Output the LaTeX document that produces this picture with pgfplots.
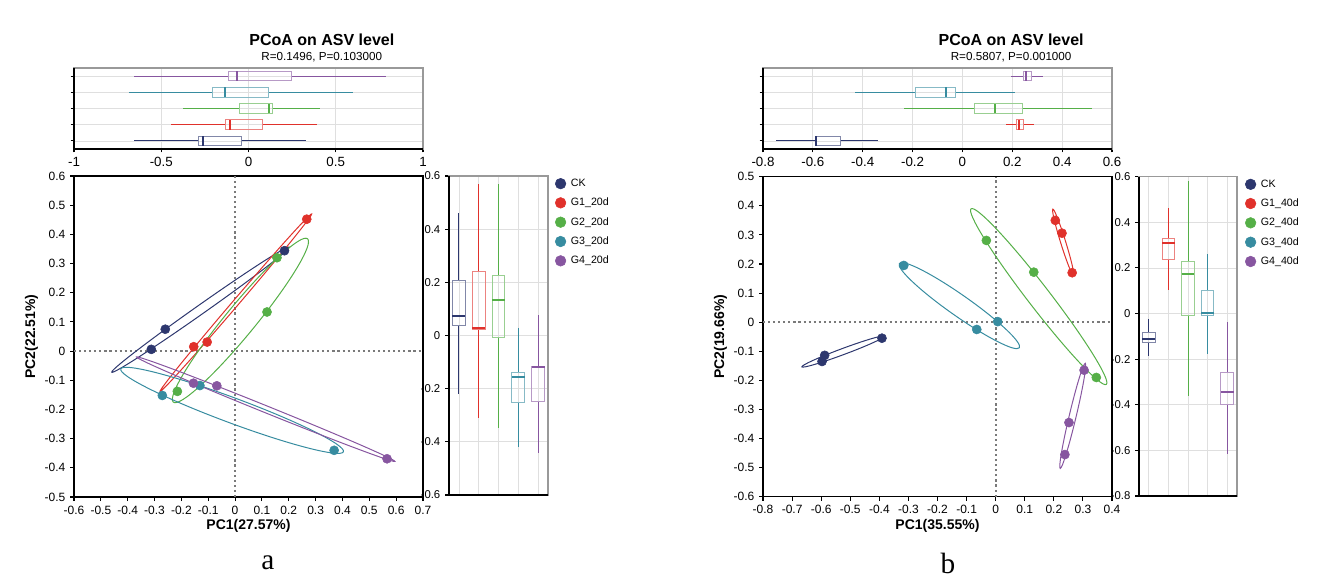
\documentclass[border=0pt]{standalone}
\usepackage{pgfplots}
\pgfplotsset{compat=1.18}
\usepgfplotslibrary{statistics}
\usepackage{fontspec}
\setmainfont{Liberation Sans}
\setsansfont{Liberation Sans}
\newfontfamily\panelfont{Liberation Serif}

\definecolor{ck}{HTML}{2D376E}
\definecolor{ga}{HTML}{E0312B}
\definecolor{gb}{HTML}{55AF47}
\definecolor{gc}{HTML}{378CA0}
\definecolor{gd}{HTML}{8756A0}
\definecolor{zeroline}{HTML}{7A7A7A}

% one prepared box: colour, position, lower whisker, Q1, median, Q3, upper whisker
\newcommand{\bx}[7]{\addplot[#1, line width=0.75pt, forget plot,
  boxplot prepared={draw position=#2, lower whisker=#3, lower quartile=#4,
    median=#5, upper quartile=#6, upper whisker=#7},
  boxplot/every box/.style={draw=#1!60!white},
  boxplot/every median/.style={line width=1.5pt}] coordinates {};}

% confidence ellipse: colour, centre x, centre y, angle, semi-axes
\newcommand{\confell}[6]{\draw[#1, line width=0.75pt,
  rotate around={#4:(axis cs:#2,#3)}] (axis cs:#2,#3)
  ellipse [x radius=#5, y radius=#6];}

% dark left and bottom edges over the grey frame of the marginal box plots
\newcommand{\darkedges}{\draw[black, line width=0.8pt]
  (rel axis cs:0,1) -- (rel axis cs:0,0) -- (rel axis cs:1,0);}

\tikzset{
  title1/.style={font=\bfseries\fontsize{12}{14}\selectfont},
  title2/.style={font=\fontsize{8.75}{10}\selectfont},
  zero/.style={zeroline, line width=1.4pt, dash pattern=on 1.6pt off 2.2pt},
}

\pgfplotsset{
  every axis/.append style={
    scale only axis,
    /pgf/number format/assume math mode=true,
    axis line style={black, line width=0.8pt},
    every tick/.style={black, line width=0.8pt},
    tick align=outside,
    major tick length=3pt,
  },
  scat/.style={
    width=261.75pt,
    xtick pos=left, ytick pos=left,
    tick label style={font=\fontsize{9}{10}\selectfont},
    xticklabel style={/pgf/number format/fixed, /pgf/number format/precision=1},
    yticklabel style={/pgf/number format/fixed, /pgf/number format/precision=1},
    label style={font=\bfseries\fontsize{10.5}{12}\selectfont},
    xlabel style={yshift=3pt},
    ylabel style={yshift=-2pt},
    every axis plot/.append style={only marks, mark=*, mark size=3.4pt},
  },
  topbox/.style={
    width=261.75pt, height=60.75pt,
    ymin=0.5, ymax=5.5, ytick={1,2,3,4,5}, yticklabels={},
    xmajorgrids, ymajorgrids,
    grid style={gray!25, line width=0.6pt},
    axis line style={gray!80, line width=0.8pt},
    xtick pos=left, ytick pos=left,
    major tick length=2.5pt,
    tick label style={font=\fontsize{10}{12}\selectfont},
    boxplot/draw direction=x,
    boxplot/box extend=0.6,
    boxplot/whisker extend=0,
    clip=false,
  },
  sidebox/.style={
    xmin=0.5, xmax=5.5, xtick={1,2,3,4,5}, xticklabels={},
    xmajorgrids, ymajorgrids,
    grid style={gray!25, line width=0.6pt},
    axis line style={gray!80, line width=0.8pt},
    xtick style={draw=none},
    ytick pos=left,
    tick label style={font=\fontsize{8.5}{10}\selectfont},
    boxplot/draw direction=y,
    boxplot/box extend=0.65,
    boxplot/whisker extend=0,
    clip=false,
    legend image code/.code={\fill[##1] (0pt,0pt) circle (4pt);},
    legend cell align=left,
    legend style={draw=none, fill=none, inner sep=0pt,
      font=\fontsize{8}{9}\selectfont, row sep=3.2pt,
      /tikz/every odd column/.append style={column sep=1.5pt}},
  },
}

\begin{document}
\begin{tikzpicture}
\path[use as bounding box] (0pt,0pt) rectangle (990pt,437.25pt);

% ---------------- panel a ----------------
\begin{axis}[topbox, at={(55.5pt,325.5pt)}, anchor=south west,
  xmin=-1, xmax=1, xtick={-1,-0.5,0,0.5,1}]
  \bx{ck}{1}{-0.656}{-0.288}{-0.263}{-0.039}{0.330}
  \bx{ga}{2}{-0.444}{-0.131}{-0.106}{0.079}{0.394}
  \bx{gb}{3}{-0.377}{-0.049}{0.116}{0.139}{0.410}
  \bx{gc}{4}{-0.683}{-0.205}{-0.133}{0.117}{0.597}
  \bx{gd}{5}{-0.656}{-0.114}{-0.068}{0.245}{0.788}
  \darkedges
  \node[title1] at (axis description cs:0.71,1.346) {PCoA on ASV level};
  \node[title2] at (axis description cs:0.71,1.132) {R=0.1496, P=0.103000};
\end{axis}

\begin{axis}[scat, at={(55.5pt,64.5pt)}, anchor=south west,
  height=240.75pt,
  xmin=-0.6, xmax=0.7, ymin=-0.5, ymax=0.6,
  xtick={-0.6,-0.5,-0.4,-0.3,-0.2,-0.1,0,0.1,0.2,0.3,0.4,0.5,0.6,0.7},
  ytick={-0.5,-0.4,-0.3,-0.2,-0.1,0,0.1,0.2,0.3,0.4,0.5,0.6},
  xlabel={PC1(27.57\%)}, ylabel={PC2(22.51\%)}]
  \draw[zero] (axis cs:0,-0.5) -- (axis cs:0,0.6);
  \draw[zero] (axis cs:-0.6,0) -- (axis cs:0.7,0);
  \confell{ck}{-0.129}{0.142}{35.2}{81.4pt}{3.4pt}
  \confell{ga}{0.003}{0.166}{49.5}{87.5pt}{2.3pt}
  \confell{gb}{0.020}{0.105}{50.6}{79.3pt}{11.2pt}
  \confell{gc}{-0.011}{-0.203}{-20.4}{89.1pt}{9.4pt}
  \confell{gd}{0.114}{-0.199}{-22.0}{104.5pt}{2.6pt}
  \addplot[ck] coordinates {(0.184,0.344) (-0.260,0.075) (-0.312,0.006)};
  \addplot[ga] coordinates {(0.267,0.452) (-0.154,0.015) (-0.104,0.031)};
  \addplot[gb] coordinates {(0.156,0.320) (0.119,0.134) (-0.215,-0.138)};
  \addplot[gc] coordinates {(-0.271,-0.152) (-0.131,-0.118) (0.369,-0.340)};
  \addplot[gd] coordinates {(-0.155,-0.110) (-0.068,-0.119) (0.566,-0.369)};
\end{axis}

\begin{axis}[sidebox, at={(336.75pt,66pt)}, anchor=south west,
  width=74.25pt, height=239.25pt,
  ymin=-0.6, ymax=0.6, ytick={-0.6,-0.4,-0.2,0,0.2,0.4,0.6},
  yticklabels={-0.6,-0.4,-0.2,0,0.2,0.4,0.6},
  legend style={at={(axis description cs:1.068,1.0)}, anchor=north west}]
  \bx{ck}{1}{-0.220}{0.037}{0.073}{0.206}{0.462}
  \bx{ga}{2}{-0.309}{0.021}{0.028}{0.240}{0.569}
  \bx{gb}{3}{-0.349}{-0.006}{0.132}{0.226}{0.569}
  \bx{gc}{4}{-0.421}{-0.251}{-0.157}{-0.140}{0.028}
  \bx{gd}{5}{-0.443}{-0.248}{-0.120}{-0.117}{0.076}
  \darkedges
  \addlegendimage{ck}\addlegendentry{CK}
  \addlegendimage{ga}\addlegendentry{G1\_20d}
  \addlegendimage{gb}\addlegendentry{G2\_20d}
  \addlegendimage{gc}\addlegendentry{G3\_20d}
  \addlegendimage{gd}\addlegendentry{G4\_20d}
\end{axis}

% ---------------- panel b ----------------
\begin{axis}[topbox, at={(572.25pt,325.5pt)}, anchor=south west,
  xmin=-0.8, xmax=0.6, xtick={-0.8,-0.6,-0.4,-0.2,0,0.2,0.4,0.6},
  xticklabel style={/pgf/number format/fixed, /pgf/number format/precision=1}]
  \bx{ck}{1}{-0.748}{-0.591}{-0.587}{-0.490}{-0.337}
  \bx{ga}{2}{0.174}{0.218}{0.228}{0.246}{0.287}
  \bx{gb}{3}{-0.234}{0.049}{0.131}{0.239}{0.521}
  \bx{gc}{4}{-0.430}{-0.190}{-0.065}{-0.028}{0.212}
  \bx{gd}{5}{0.195}{0.243}{0.254}{0.279}{0.325}
  \darkedges
  \node[title1] at (axis description cs:0.711,1.346) {PCoA on ASV level};
  \node[title2] at (axis description cs:0.711,1.132) {R=0.5807, P=0.001000};
\end{axis}

\begin{axis}[scat, at={(572.25pt,64.7pt)}, anchor=south west,
  height=240pt,
  xmin=-0.8, xmax=0.4, ymin=-0.6, ymax=0.5,
  xtick={-0.8,-0.7,-0.6,-0.5,-0.4,-0.3,-0.2,-0.1,0,0.1,0.2,0.3,0.4},
  ytick={-0.6,-0.5,-0.4,-0.3,-0.2,-0.1,0,0.1,0.2,0.3,0.4,0.5},
  xlabel={PC1(35.55\%)}, ylabel={PC2(19.66\%)}]
  \draw[zero] (axis cs:0,-0.6) -- (axis cs:0,0.5);
  \draw[zero] (axis cs:-0.8,0) -- (axis cs:0.4,0);
  \confell{ck}{-0.525}{-0.101}{20.4}{32.9pt}{2.3pt}
  \confell{ga}{0.232}{0.275}{107.3}{26pt}{1.9pt}
  \confell{gb}{0.148}{0.088}{-52.4}{83.1pt}{8.3pt}
  \confell{gc}{-0.125}{0.057}{-35.1}{55pt}{7.9pt}
  \confell{gd}{0.265}{-0.322}{76.6}{40.5pt}{2.6pt}
  \addplot[ck] coordinates {(-0.391,-0.055) (-0.588,-0.114) (-0.597,-0.135)};
  \addplot[ga] coordinates {(0.205,0.350) (0.228,0.306) (0.263,0.170)};
  \addplot[gb] coordinates {(-0.032,0.281) (0.131,0.172) (0.346,-0.190)};
  \addplot[gc] coordinates {(-0.316,0.195) (-0.065,-0.025) (0.007,0.002)};
  \addplot[gd] coordinates {(0.304,-0.165) (0.252,-0.345) (0.238,-0.455)};
\end{axis}

\begin{axis}[sidebox, at={(854.25pt,65.25pt)}, anchor=south west,
  width=73.5pt, height=239.5pt,
  ymin=-0.8, ymax=0.6, ytick={-0.8,-0.6,-0.4,-0.2,0,0.2,0.4,0.6},
  yticklabels={-0.8,-0.6,-0.4,-0.2,0,0.2,0.4,0.6},
  legend style={at={(axis description cs:1.079,1.0)}, anchor=north west}]
  \bx{ck}{1}{-0.187}{-0.126}{-0.113}{-0.085}{-0.023}
  \bx{ga}{2}{0.105}{0.238}{0.308}{0.330}{0.462}
  \bx{gb}{3}{-0.361}{-0.010}{0.174}{0.227}{0.579}
  \bx{gc}{4}{-0.177}{-0.010}{0.004}{0.099}{0.263}
  \bx{gd}{5}{-0.617}{-0.400}{-0.345}{-0.257}{-0.035}
  \darkedges
  \addlegendimage{ck}\addlegendentry{CK}
  \addlegendimage{ga}\addlegendentry{G1\_40d}
  \addlegendimage{gb}\addlegendentry{G2\_40d}
  \addlegendimage{gc}\addlegendentry{G3\_40d}
  \addlegendimage{gd}\addlegendentry{G4\_40d}
\end{axis}

\node[font=\panelfont\fontsize{22}{24}\selectfont] at (201pt,15pt) {a};
\node[font=\panelfont\fontsize{22}{24}\selectfont] at (711pt,15pt) {b};
\end{tikzpicture}
\end{document}
